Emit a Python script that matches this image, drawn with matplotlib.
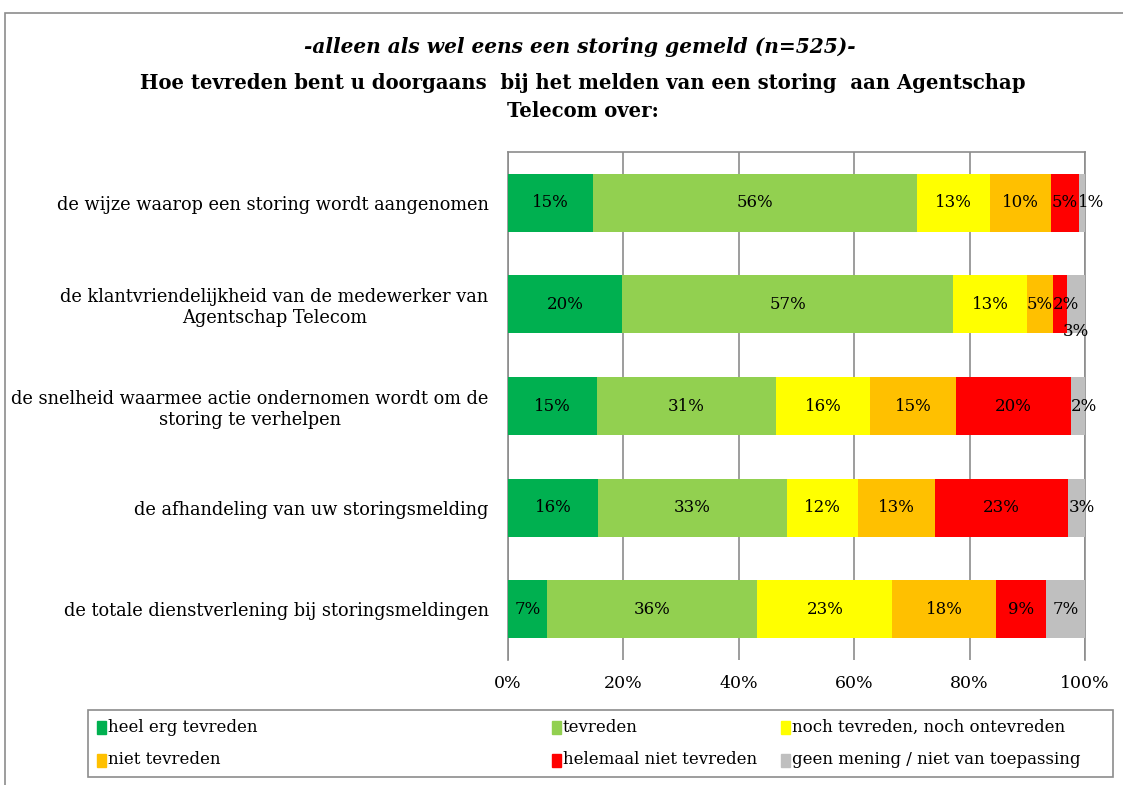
import matplotlib.pyplot as plt
from matplotlib.patches import Rectangle
import numpy as np

plt.rcParams['font.family'] = ['DejaVu Serif']

# Categories (top to bottom)
categories = [
    "de wijze waarop een storing wordt aangenomen",
    "de klantvriendelijkheid van de medewerker van\nAgentschap Telecom",
    "de snelheid waarmee actie ondernomen wordt om de\nstoring te verhelpen",
    "de afhandeling van uw storingsmelding",
    "de totale dienstverlening bij storingsmeldingen",
]

series_names = [
    "heel erg tevreden",
    "tevreden",
    "noch tevreden, noch ontevreden",
    "niet tevreden",
    "helemaal niet tevreden",
    "geen mening / niet van toepassing",
]

heel_erg = [14.7, 19.8, 15.4, 15.6, 6.8]
tevreden = [56.1, 57.4, 31.0, 32.7, 36.4]
noch = [12.8, 12.7, 16.4, 12.3, 23.4]
niet = [10.5, 4.6, 14.8, 13.4, 18.0]
helemaal = [4.9, 2.3, 20.0, 23.1, 8.6]
geen = [1.0, 3.2, 2.4, 2.9, 6.8]

colors = ['#00B050', '#92D050', '#FFFF00', '#FFC000', '#FF0000', '#BFBFBF']

series = [heel_erg, tevreden, noch, niet, helemaal, geen]

fig = plt.figure(figsize=(11.23, 7.85), dpi=100)
W, H = 1123, 785

# outer frame of the chart area (runs off the right and bottom edges)
fig.patches.append(Rectangle((5 / W, -0.2), 1.2, 1.2 - 13 / H, transform=fig.transFigure,
                             fill=False, edgecolor='#8c8c8c', linewidth=1.2))

# plot area: x 508..1085, y 152..660 (pixels from top)
ax = fig.add_axes([508 / W, 1 - 660 / H, (1085 - 508) / W, (660 - 152) / H])

y = np.arange(len(categories))
left = np.zeros(len(categories))
for vals, col, name in zip(series, colors, series_names):
    vals = np.array(vals)
    ax.barh(y, vals, left=left, height=0.57, color=col, label=name, zorder=3)
    for i, (v, l) in enumerate(zip(vals, left)):
        txt = f"{v:.0f}%"
        cx = l + v / 2
        cy = y[i]
        ha = 'center'
        if name == series_names[-1] and v < 1.5:
            cx = l - 0.3
            ha = 'left'
        elif name == series_names[-1] and i == 1:
            cy = y[i] + 0.27
        elif v < 3:
            cx = l
            ha = 'left'
        ax.text(cx, cy, txt, ha=ha, va='center', fontsize=12, color='black', zorder=4)
    left = left + vals

ax.set_xlim(0, 100)
ax.set_ylim(len(categories) - 0.5, -0.5)
ax.set_xticks(np.arange(0, 101, 20))
ax.set_xticklabels([f"{t}%" for t in range(0, 101, 20)], fontsize=12.5)
ax.set_yticks(y)
ax.set_yticklabels(categories, fontsize=12.8, ha='right', multialignment='center')
ax.tick_params(axis='x', length=0, pad=11)
ax.tick_params(axis='y', length=0, pad=14)
ax.xaxis.grid(True, color='#8c8c8c', linewidth=1.2, zorder=0)
for s in ['left', 'right', 'top']:
    ax.spines[s].set_color('#8c8c8c')
    ax.spines[s].set_linewidth(1.2)
ax.spines['bottom'].set_visible(False)

# titles
fig.text(580 / W, 1 - 47 / H, "-alleen als wel eens een storing gemeld (n=525)-",
         ha='center', va='center', fontsize=14.5, style='italic', weight='bold')
fig.text(583 / W, 1 - 97 / H,
         "Hoe tevreden bent u doorgaans  bij het melden van een storing  aan Agentschap\nTelecom over:",
         ha='center', va='center', fontsize=14.1, weight='bold', linespacing=1.5)

# legend box drawn manually
fig.patches.append(Rectangle((88 / W, 1 - 777 / H), (1113 - 88) / W, (777 - 710) / H,
                             transform=fig.transFigure, fill=False,
                             edgecolor='#8c8c8c', linewidth=1.2))
col_x = [97, 552, 781]
row_y = [727, 760]
for k, (name, col) in enumerate(zip(series_names, colors)):
    cxp = col_x[k % 3]
    cyp = row_y[k // 3]
    fig.patches.append(Rectangle((cxp / W, 1 - (cyp + 7) / H), 9 / W, 13 / H,
                                 transform=fig.transFigure, color=col))
    fig.text((cxp + 11) / W, 1 - cyp / H, name, ha='left', va='center', fontsize=12)

plt.savefig('out.png', dpi=100)
